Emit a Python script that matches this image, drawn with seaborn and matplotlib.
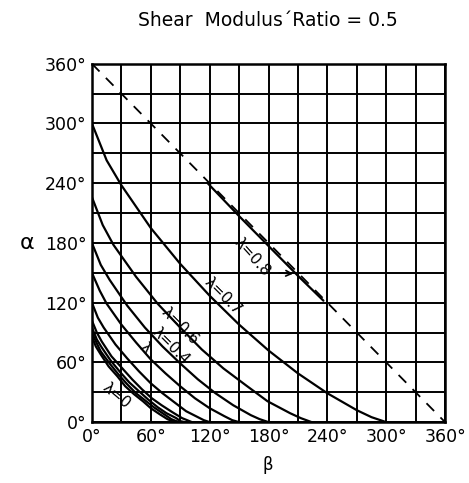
import pandas as pd
import seaborn as sns
import matplotlib.pyplot as plt

# Curves: beta (x) and alpha (y), in degrees
beta_07 = [0, 15, 30, 60, 90, 120, 150, 180, 210, 240, 270, 285, 300]
alpha_07 = [300, 263, 238, 195, 159, 127, 98, 72, 49, 29, 12, 5, 0]

beta_06 = [0, 11, 22, 45, 67, 90, 112, 134, 157, 179, 202, 213, 224]
alpha_06 = [226, 198, 178, 146, 119, 95, 73, 54, 37, 21, 9, 4, 0]

beta_05 = [0, 9, 18, 36, 54, 72, 90, 108, 126, 144, 162, 171, 180]
alpha_05 = [180, 158, 143, 117, 95, 76, 59, 43, 29, 17, 7, 3, 0]

beta_04 = [0, 8, 15, 30, 45, 60, 75, 90, 105, 120, 135, 143, 150]
alpha_04 = [150, 132, 119, 98, 80, 63, 49, 36, 24, 14, 6, 2, 0]

beta_03 = [0, 6, 12, 24, 36, 48, 60, 72, 84, 96, 108, 114, 120]
alpha_03 = [120, 105, 95, 78, 64, 51, 39, 29, 20, 11, 5, 2, 0]

beta_02 = [0, 5, 10, 20, 31, 41, 51, 61, 71, 82, 92, 97, 102]
alpha_02 = [102, 90, 81, 66, 54, 43, 33, 24, 17, 10, 4, 2, 0]

beta_01 = [0, 5, 10, 19, 29, 38, 48, 57, 67, 76, 86, 90, 95]
alpha_01 = [95, 83, 75, 62, 50, 40, 31, 23, 15, 9, 4, 1, 0]

beta_005 = [0, 5, 9, 18, 27, 36, 45, 54, 63, 72, 81, 86, 90]
alpha_005 = [90, 79, 71, 59, 48, 38, 29, 22, 15, 9, 3, 1, 0]

beta_0 = [0, 4, 9, 17, 26, 34, 43, 52, 60, 69, 77, 82, 86]
alpha_0 = [86, 76, 68, 56, 46, 36, 28, 21, 14, 8, 3, 1, 0]

# short solid piece for lambda = 0.8, running along the dashed limit line
beta_08 = [118, 150, 180, 210, 236]
alpha_08 = [240, 207, 177, 147, 122]

# dashed limit line
beta_lim = [0, 360]
alpha_lim = [360, 0]

ticks = [0, 60, 120, 180, 240, 300, 360]
tick_labels = ['0°', '60°', '120°', '180°', '240°', '300°', '360°']
grid_steps = [0, 30, 60, 90, 120, 150, 180, 210, 240, 270, 300, 330, 360]

curves = {
    '0.7': (beta_07, alpha_07), '0.6': (beta_06, alpha_06),
    '0.5': (beta_05, alpha_05), '0.4': (beta_04, alpha_04),
    '0.3': (beta_03, alpha_03), '0.2': (beta_02, alpha_02),
    '0.1': (beta_01, alpha_01), '0.05': (beta_005, alpha_005),
    '0': (beta_0, alpha_0), '0.8': (beta_08, alpha_08),
}
df = pd.concat([pd.DataFrame({'beta': b, 'alpha': a, 'curve': k})
                for k, (b, a) in curves.items()], ignore_index=True)

sns.set_style('white')
plt.rcParams['font.family'] = ['DejaVu Sans']
plt.rcParams['text.color'] = 'black'
plt.rcParams['xtick.color'] = 'black'
plt.rcParams['ytick.color'] = 'black'

fig = plt.figure(figsize=(4.69, 4.83), dpi=100)
ax = fig.add_axes([0.196, 0.126, 0.753, 0.742])

sns.lineplot(data=df, x='beta', y='alpha', units='curve', estimator=None,
             sort=False, color='black', lw=1.6, ax=ax)
sns.lineplot(x=beta_lim, y=alpha_lim, color='black', lw=1.3,
             dashes=False, ax=ax, linestyle=(0, (6, 5)))

ax.set_xlim(0, 360)
ax.set_ylim(0, 360)
ax.set_xticks(grid_steps, minor=True)
ax.set_yticks(grid_steps, minor=True)
ax.set_xticks(ticks)
ax.set_yticks(ticks)
ax.set_xticklabels(tick_labels, fontsize=12.5)
ax.set_yticklabels(tick_labels, fontsize=12.5)
ax.tick_params(which='both', length=0, pad=4, labelcolor='black')
ax.grid(which='both', color='black', lw=1.4)
ax.set_axisbelow(True)
for s in ax.spines.values():
    s.set_color('black')
    s.set_linewidth(1.8)
ax.set_xlabel('')
ax.set_ylabel('')

# curve labels
lab = dict(fontsize=11, ha='center', va='center', rotation_mode='anchor',
           color='black')
ax.text(163, 166, 'λ=0.8', rotation=-48, **lab)
ax.annotate('', xy=(208, 149), xytext=(188, 150),
            arrowprops=dict(arrowstyle='->', lw=1.2, color='black'))
ax.text(134, 127, 'λ=0.7', rotation=-45, **lab)
ax.text(90, 96, 'λ=0.6', rotation=-45, **lab)
ax.text(81, 76, 'λ=0.4', rotation=-45, **lab)
ax.text(54, 74, 'λ', rotation=-45, **lab)
ax.text(25, 27, 'λ=0', rotation=-40, **lab)

fig.text(0.571, 0.957, 'Shear  Modulus´Ratio = 0.5', ha='center', va='center',
         fontsize=13.5, color='black')
fig.text(0.058, 0.497, 'α', ha='center', va='center', fontsize=16,
         color='black')
fig.text(0.571, 0.037, 'β', ha='center', va='center', fontsize=12,
         color='black')

fig.savefig('out.png', dpi=100)
